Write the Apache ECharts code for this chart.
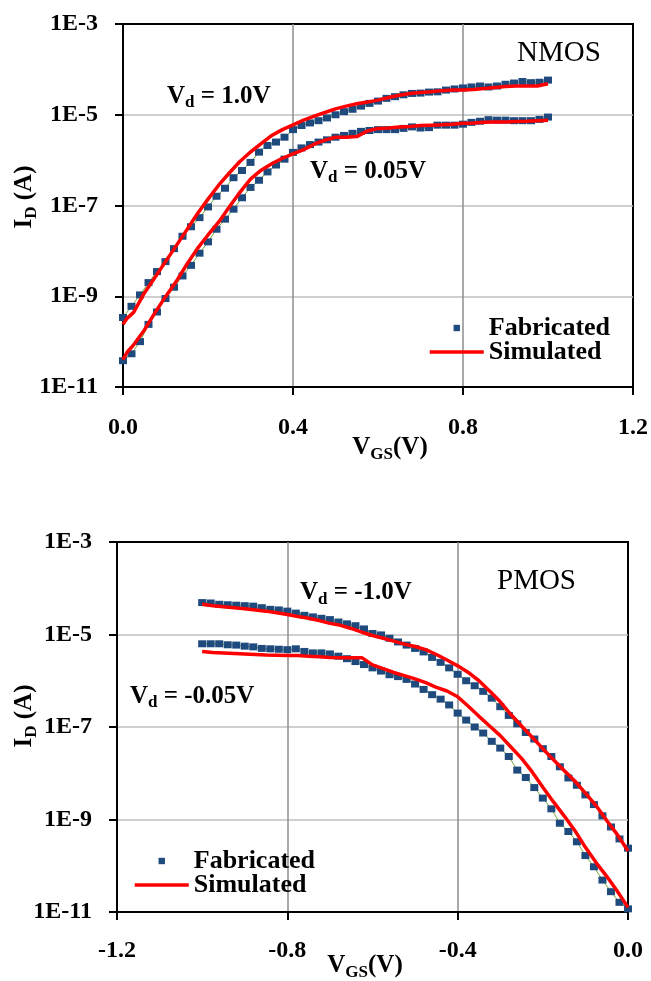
<!DOCTYPE html>
<html>
<head>
<meta charset="utf-8">
<title>NMOS / PMOS transfer characteristics</title>
<script src="https://cdn.jsdelivr.net/npm/echarts@6/dist/echarts.min.js"></script>
<style>
  html, body { margin: 0; padding: 0; background: #fff; }
  #chart { width: 651px; height: 981px; }
</style>
</head>
<body>
<div id="chart"></div>
<script>
// ---------- NMOS (VGS in V, ID in A) ----------
const nmosFabV = [0,0.02,0.04,0.06,0.08,0.10,0.12,0.14,0.16,0.18,0.20,0.22,0.24,0.26,0.28,0.30,0.32,0.34,0.36,0.38,0.40,0.42,0.44,0.46,0.48,0.50,0.52,0.54,0.56,0.58,0.60,0.62,0.64,0.66,0.68,0.70,0.72,0.74,0.76,0.78,0.80,0.82,0.84,0.86,0.88,0.90,0.92,0.94,0.96,0.98,1.00];
// measured, Vd = 1.0 V
const nmosFabHigh = [3.4e-10,6.0e-10,1.07e-9,2.0e-9,3.5e-9,5.8e-9,1.12e-8,2.1e-8,3.4e-8,5.4e-8,9.3e-8,1.6e-7,2.4e-7,4.1e-7,5.9e-7,8.9e-7,1.5e-6,2.1e-6,2.5e-6,3.2e-6,4.7e-6,5.8e-6,6.6e-6,7.4e-6,8.5e-6,1.0e-5,1.17e-5,1.32e-5,1.55e-5,1.78e-5,2.0e-5,2.3e-5,2.5e-5,2.75e-5,2.95e-5,3.0e-5,3.16e-5,3.2e-5,3.5e-5,3.7e-5,3.9e-5,4.1e-5,4.3e-5,4.1e-5,4.3e-5,4.7e-5,5.0e-5,5.4e-5,5.1e-5,5.2e-5,5.8e-5];
// measured, Vd = 0.05 V
const nmosFabLow = [3.8e-11,5.4e-11,1.0e-10,2.4e-10,4.5e-10,8.9e-10,1.58e-9,2.8e-9,4.8e-9,8.9e-9,1.58e-8,3.0e-8,5.0e-8,8.3e-8,1.48e-7,2.5e-7,3.6e-7,5.5e-7,7.8e-7,1.05e-6,1.48e-6,1.86e-6,2.2e-6,2.5e-6,2.8e-6,3.2e-6,3.5e-6,3.9e-6,4.3e-6,4.5e-6,4.7e-6,4.7e-6,4.7e-6,5.0e-6,5.4e-6,5.1e-6,5.2e-6,5.9e-6,5.9e-6,5.9e-6,6.2e-6,6.8e-6,7.2e-6,7.8e-6,7.6e-6,7.6e-6,7.4e-6,7.4e-6,7.4e-6,7.9e-6,8.9e-6];
const nmosSimV = [0,0.01,0.025,0.05,0.075,0.1,0.125,0.15,0.175,0.2,0.225,0.25,0.275,0.3,0.325,0.35,0.375,0.4,0.425,0.45,0.475,0.5,0.525,0.55,0.575,0.6,0.625,0.65,0.675,0.7,0.725,0.75,0.775,0.8,0.825,0.85,0.875,0.9,0.925,0.95,0.975,1.0];
// simulated, Vd = 1.0 V
const nmosSimHigh = [2.4e-10,3.3e-10,4.4e-10,1.17e-9,2.6e-9,5.8e-9,1.29e-8,2.9e-8,6.6e-8,1.38e-7,2.8e-7,5.2e-7,9.3e-7,1.51e-6,2.3e-6,3.5e-6,4.7e-6,6.0e-6,7.6e-6,9.3e-6,1.12e-5,1.35e-5,1.55e-5,1.74e-5,1.9e-5,2.1e-5,2.4e-5,2.7e-5,2.95e-5,3.1e-5,3.2e-5,3.4e-5,3.5e-5,3.5e-5,3.6e-5,3.8e-5,4.0e-5,4.2e-5,4.3e-5,4.3e-5,4.3e-5,4.8e-5];
// simulated, Vd = 0.05 V
const nmosSimLow = [4.0e-11,5.9e-11,8.5e-11,1.78e-10,4.3e-10,9.8e-10,2.1e-9,5.0e-9,1.12e-8,2.24e-8,4.3e-8,9.3e-8,1.95e-7,3.8e-7,6.0e-7,8.3e-7,1.1e-6,1.38e-6,1.7e-6,2.24e-6,2.75e-6,3.2e-6,3.2e-6,3.3e-6,4.4e-6,5.0e-6,5.1e-6,5.4e-6,5.5e-6,5.8e-6,5.9e-6,6.0e-6,6.2e-6,6.5e-6,6.6e-6,6.8e-6,6.9e-6,6.9e-6,7.1e-6,7.2e-6,7.4e-6,7.6e-6];

// ---------- PMOS ----------
const pmosFabV = [-1.00,-0.98,-0.96,-0.94,-0.92,-0.90,-0.88,-0.86,-0.84,-0.82,-0.80,-0.78,-0.76,-0.74,-0.72,-0.70,-0.68,-0.66,-0.64,-0.62,-0.60,-0.58,-0.56,-0.54,-0.52,-0.50,-0.48,-0.46,-0.44,-0.42,-0.40,-0.38,-0.36,-0.34,-0.32,-0.30,-0.28,-0.26,-0.24,-0.22,-0.20,-0.18,-0.16,-0.14,-0.12,-0.10,-0.08,-0.06,-0.04,-0.02,0.00];
// measured, Vd = -1.0 V
const pmosFabHigh = [4.9e-5,4.8e-5,4.5e-5,4.4e-5,4.3e-5,4.2e-5,4.1e-5,3.8e-5,3.5e-5,3.4e-5,3.2e-5,2.9e-5,2.6e-5,2.4e-5,2.24e-5,2.1e-5,1.86e-5,1.7e-5,1.55e-5,1.32e-5,1.05e-5,9.8e-6,8.3e-6,6.9e-6,5.9e-6,5.0e-6,4.2e-6,3.2e-6,2.5e-6,1.9e-6,1.38e-6,1.0e-6,7.8e-7,5.9e-7,4.2e-7,2.75e-7,1.78e-7,1.17e-7,7.6e-8,5.5e-8,3.4e-8,2.3e-8,1.38e-8,7.9e-9,5.5e-9,3.4e-9,2.1e-9,1.2e-9,6.9e-10,3.8e-10,2.4e-10];
// measured, Vd = -0.05 V
const pmosFabLow = [6.3e-6,6.3e-6,6.3e-6,6.0e-6,5.9e-6,5.6e-6,5.4e-6,5.0e-6,4.9e-6,4.8e-6,4.7e-6,4.9e-6,4.3e-6,4.0e-6,4.0e-6,3.8e-6,3.4e-6,3.0e-6,2.6e-6,2.24e-6,1.9e-6,1.62e-6,1.35e-6,1.23e-6,1.07e-6,8.5e-7,6.5e-7,5.0e-7,4.0e-7,3.0e-7,2.0e-7,1.41e-7,1.0e-7,7.4e-8,4.9e-8,3.5e-8,2.3e-8,1.17e-8,8.1e-9,4.9e-9,2.9e-9,1.7e-9,8.3e-10,5.5e-10,3.3e-10,1.66e-10,9.5e-11,4.9e-11,2.75e-11,1.62e-11,1.17e-11];
const pmosSimV = [-1.0,-0.975,-0.95,-0.925,-0.9,-0.875,-0.85,-0.825,-0.8,-0.775,-0.75,-0.725,-0.7,-0.675,-0.65,-0.625,-0.6,-0.575,-0.55,-0.525,-0.5,-0.475,-0.45,-0.425,-0.4,-0.375,-0.35,-0.325,-0.3,-0.275,-0.25,-0.225,-0.2,-0.175,-0.15,-0.125,-0.1,-0.075,-0.05,-0.025,0];
// simulated, Vd = -1.0 V
const pmosSimHigh = [4.5e-5,4.2e-5,4.0e-5,3.8e-5,3.6e-5,3.4e-5,3.2e-5,2.95e-5,2.7e-5,2.45e-5,2.24e-5,2.0e-5,1.74e-5,1.58e-5,1.35e-5,1.12e-5,9.5e-6,8.3e-6,7.2e-6,6.2e-6,5.5e-6,4.7e-6,3.7e-6,2.8e-6,2.1e-6,1.51e-6,1.0e-6,6.0e-7,3.5e-7,1.86e-7,1.05e-7,6.0e-8,3.4e-8,1.95e-8,1.15e-8,6.8e-9,3.7e-9,2.0e-9,9.5e-10,4.7e-10,2.1e-10];
// simulated, Vd = -0.05 V
const pmosSimLow = [4.3e-6,4.1e-6,4.0e-6,3.9e-6,3.8e-6,3.7e-6,3.6e-6,3.55e-6,3.5e-6,3.5e-6,3.4e-6,3.3e-6,3.2e-6,3.16e-6,3.16e-6,3.16e-6,2.2e-6,1.82e-6,1.51e-6,1.29e-6,1.1e-6,9.1e-7,7.2e-7,6.0e-7,4.5e-7,2.8e-7,1.7e-7,1.05e-7,6.5e-8,3.7e-8,2.1e-8,1.07e-8,5.0e-9,2.4e-9,1.2e-9,5.8e-10,2.5e-10,1.17e-10,5.9e-11,2.8e-11,1.26e-11];

// axis tick values
const nmosXTicks = { min: 0, max: 1.2, step: 0.4 };
const pmosXTicks = { min: -1.2, max: 0, step: 0.4 };
const yDecades = { min: -11, max: -3, step: 2 };   // 1E-11 ... 1E-3

// ---------- styling ----------
const SERIF = '"Liberation Serif", "Times New Roman", serif';
const BLUE = '#1F4A7E';
const RED = '#FF0000';
const GREEN = '#76A83A';

// current axis is in decades: plot log10(ID)
function pairs(xs, ys) {
  return xs.map((x, i) => [x, Math.log10(ys[i])]);
}

function xAxisOf(grid, ticks, margin) {
  return {
    type: 'value', gridIndex: grid,
    min: ticks.min, max: ticks.max, interval: ticks.step,
    axisLine: { onZero: false, lineStyle: { color: '#000', width: 2 } },
    axisTick: { inside: false, length: 8, lineStyle: { color: '#000', width: 2 } },
    axisLabel: {
      margin: margin, color: '#000', fontFamily: SERIF, fontWeight: 'bold', fontSize: 24,
      formatter: v => (Math.abs(v) < 1e-9 ? 0 : v).toFixed(1)
    },
    splitLine: { show: true, showMinLine: false, showMaxLine: false, lineStyle: { color: '#8C8C8C', width: 1.5 } }
  };
}

function yAxisOf(grid) {
  return {
    type: 'value', gridIndex: grid,
    min: yDecades.min, max: yDecades.max, interval: yDecades.step,
    axisLine: { onZero: false, lineStyle: { color: '#000', width: 2 } },
    axisTick: { inside: false, length: 8, lineStyle: { color: '#000', width: 2 } },
    axisLabel: {
      margin: 25, color: '#000', fontFamily: SERIF, fontWeight: 'bold', fontSize: 24,
      formatter: v => '1E' + Math.round(v)
    },
    splitLine: { show: true, showMinLine: false, showMaxLine: false, lineStyle: { color: '#BFBFBF', width: 1.5 } }
  };
}

function fabSeries(axis, xs, ys) {
  return {
    name: 'Fabricated', type: 'line', xAxisIndex: axis, yAxisIndex: axis,
    data: pairs(xs, ys),
    symbol: 'rect', symbolSize: [8, 7], showSymbol: true,
    itemStyle: { color: BLUE },
    lineStyle: { color: GREEN, width: 1 },
    z: 2, silent: true
  };
}

function simSeries(axis, xs, ys) {
  return {
    name: 'Simulated', type: 'line', xAxisIndex: axis, yAxisIndex: axis,
    data: pairs(xs, ys),
    symbol: 'none',
    itemStyle: { color: RED },
    lineStyle: { color: RED, width: 3.5 },
    z: 3, silent: true
  };
}

function legendAt(left, top) {
  return {
    orient: 'vertical', left: left, top: top, padding: 0,
    itemWidth: 54, itemHeight: 8, itemGap: -2,
    selectedMode: false,
    textStyle: { color: '#000', fontFamily: SERIF, fontWeight: 'bold', fontSize: 26, lineHeight: 24 },
    data: [
      { name: 'Fabricated', lineStyle: { opacity: 0 } },
      { name: 'Simulated', itemStyle: { opacity: 0 }, lineStyle: { color: RED, width: 3.5 } }
    ]
  };
}

const rich = {
  m: { fontFamily: SERIF, fontWeight: 'bold', fontSize: 25, lineHeight: 30, fill: '#000' },
  s: { fontFamily: SERIF, fontWeight: 'bold', fontSize: 17, lineHeight: 16, verticalAlign: 'bottom', fill: '#000' }
};

function label(text, x, y, align, rotation) {
  return {
    type: 'text', x: x, y: y, rotation: rotation || 0,
    style: {
      text: text, rich: rich, fill: '#000',
      align: align, textAlign: align,
      verticalAlign: 'middle', textVerticalAlign: 'middle'
    }
  };
}

function plain(text, x, y) {
  return {
    type: 'text', x: x, y: y,
    style: {
      text: text, fill: '#000', fontFamily: SERIF, fontSize: 29,
      align: 'left', textAlign: 'left', verticalAlign: 'middle', textVerticalAlign: 'middle'
    }
  };
}

const chart = echarts.init(document.getElementById('chart'), null, { renderer: 'canvas' });
chart.setOption({
  animation: false,
  backgroundColor: '#fff',
  textStyle: { fontFamily: SERIF },
  grid: [
    { left: 123, top: 24, width: 513, height: 363, show: true, borderColor: '#000', borderWidth: 2, containLabel: false },
    { left: 117, top: 542, width: 511, height: 370, show: true, borderColor: '#000', borderWidth: 2, containLabel: false }
  ],
  xAxis: [xAxisOf(0, nmosXTicks, 29), xAxisOf(1, pmosXTicks, 27)],
  yAxis: [yAxisOf(0), yAxisOf(1)],
  legend: [legendAt(428, 315), legendAt(133, 848)],
  series: [
    fabSeries(0, nmosFabV, nmosFabHigh),
    fabSeries(0, nmosFabV, nmosFabLow),
    simSeries(0, nmosSimV, nmosSimHigh),
    simSeries(0, nmosSimV, nmosSimLow),
    fabSeries(1, pmosFabV, pmosFabHigh),
    fabSeries(1, pmosFabV, pmosFabLow),
    simSeries(1, pmosSimV, pmosSimHigh),
    simSeries(1, pmosSimV, pmosSimLow)
  ],
  graphic: [
    label('{m|V}{s|d}{m| = 1.0V}', 167, 96.5, 'left'),
    label('{m|V}{s|d}{m| = 0.05V}', 310, 171.5, 'left'),
    plain('NMOS', 517, 53),
    label('{m|V}{s|GS}{m|(V)}', 390, 448, 'center'),
    label('{m|I}{s|D}{m| (A)}', 25, 197, 'center', Math.PI / 2),
    label('{m|V}{s|d}{m| = -1.0V}', 300, 593, 'left'),
    plain('PMOS', 497, 581.5),
    label('{m|V}{s|d}{m| = -0.05V}', 130, 696.5, 'left'),
    label('{m|V}{s|GS}{m|(V)}', 365, 966, 'center'),
    label('{m|I}{s|D}{m| (A)}', 25, 716, 'center', Math.PI / 2)
  ]
});
</script>
</body>
</html>
